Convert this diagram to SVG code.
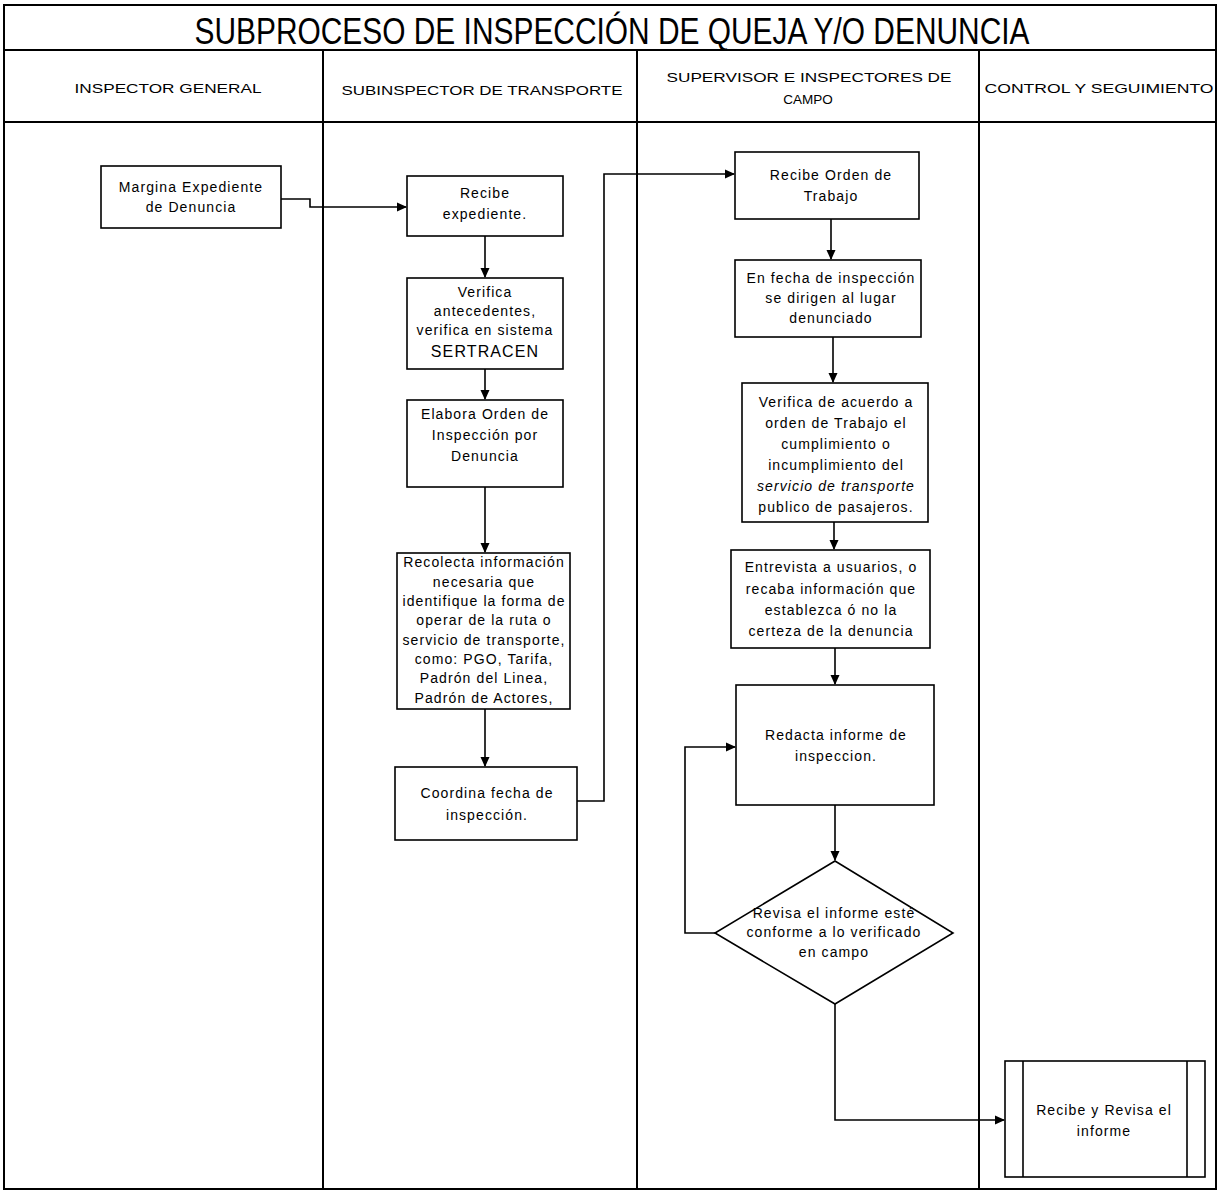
<svg xmlns="http://www.w3.org/2000/svg" width="1218" height="1192" viewBox="0 0 1218 1192">
<defs>
<marker id="ah" markerWidth="10" markerHeight="10" refX="9" refY="5" orient="auto" markerUnits="userSpaceOnUse">
<path d="M0,0.5 L10,5 L0,9.5 Z" fill="#000"/>
</marker>
<style>
.frame{fill:none;stroke:#000;stroke-width:2}
.box{fill:#fff;stroke:#000;stroke-width:1.6}
.con{fill:none;stroke:#000;stroke-width:1.6}
.t{font-family:"Liberation Sans",Arial,sans-serif;font-size:14px;letter-spacing:1.1px;fill:#000;text-anchor:middle}
.h{font-family:"Liberation Sans",Arial,sans-serif;font-size:13.5px;fill:#000;text-anchor:middle}
.title{font-family:"Liberation Sans",Arial,sans-serif;font-size:36px;fill:#000;text-anchor:middle}
</style>
</defs>
<rect width="1218" height="1192" fill="#fff"/>
<g id="frame">
<rect class="frame" x="4" y="5" width="1212" height="1184"/>
<line class="frame" x1="4" y1="50" x2="1216" y2="50"/>
<line class="frame" x1="4" y1="122" x2="1216" y2="122"/>
<line class="frame" x1="323" y1="50" x2="323" y2="1189"/>
<line class="frame" x1="637" y1="50" x2="637" y2="1189"/>
<line class="frame" x1="979" y1="50" x2="979" y2="1189"/>
<text class="title" x="612" y="44" textLength="835" lengthAdjust="spacingAndGlyphs">SUBPROCESO DE INSPECCIÓN DE QUEJA Y/O DENUNCIA</text>
<text class="h" x="168" y="93" textLength="187" lengthAdjust="spacingAndGlyphs">INSPECTOR GENERAL</text>
<text class="h" x="482" y="95" textLength="281" lengthAdjust="spacingAndGlyphs">SUBINSPECTOR DE TRANSPORTE</text>
<text class="h" x="809" y="82" textLength="285" lengthAdjust="spacingAndGlyphs">SUPERVISOR E INSPECTORES DE</text>
<text class="h" x="808" y="104">CAMPO</text>
<text class="h" x="1099" y="93" textLength="229" lengthAdjust="spacingAndGlyphs">CONTROL Y SEGUIMIENTO</text>
</g>
<g id="connectors">
<path class="con" d="M281,199 H310 V207 H406" marker-end="url(#ah)"/>
<path class="con" d="M485,236 V277" marker-end="url(#ah)"/>
<path class="con" d="M485,369 V399" marker-end="url(#ah)"/>
<path class="con" d="M485,487 V552" marker-end="url(#ah)"/>
<path class="con" d="M485,709 V766" marker-end="url(#ah)"/>
<path class="con" d="M577,801 H604 V174 H734" marker-end="url(#ah)"/>
<path class="con" d="M831,219 V259" marker-end="url(#ah)"/>
<path class="con" d="M833,337 V382" marker-end="url(#ah)"/>
<path class="con" d="M834,522 V549" marker-end="url(#ah)"/>
<path class="con" d="M835,648 V684" marker-end="url(#ah)"/>
<path class="con" d="M835,805 V860" marker-end="url(#ah)"/>
<path class="con" d="M715,933 H685 V747 H735" marker-end="url(#ah)"/>
<path class="con" d="M835,1004 V1120 H1004" marker-end="url(#ah)"/>
</g>
<g id="n1">
<rect class="box" x="101" y="166" width="180" height="62"/>
<text class="t" x="191" y="192">Margina Expediente</text>
<text class="t" x="191" y="212">de Denuncia</text>
</g>
<g id="n2">
<rect class="box" x="407" y="176" width="156" height="60"/>
<text class="t" x="485" y="198">Recibe</text>
<text class="t" x="485" y="219">expediente.</text>
</g>
<g id="n3">
<rect class="box" x="407" y="278" width="156" height="91"/>
<text class="t" x="485" y="297">Verifica</text>
<text class="t" x="485" y="316">antecedentes,</text>
<text class="t" x="485" y="335">verifica en sistema</text>
<text class="t" x="485" y="357" style="font-size:16px">SERTRACEN</text>
</g>
<g id="n4">
<rect class="box" x="407" y="400" width="156" height="87"/>
<text class="t" x="485" y="419">Elabora Orden de</text>
<text class="t" x="485" y="440">Inspección por</text>
<text class="t" x="485" y="461">Denuncia</text>
</g>
<g id="n5">
<rect class="box" x="397" y="553" width="173" height="156"/>
<text class="t" x="484" y="567">Recolecta información</text>
<text class="t" x="484" y="587">necesaria que</text>
<text class="t" x="484" y="606">identifique la forma de</text>
<text class="t" x="484" y="625">operar de la ruta o</text>
<text class="t" x="484" y="645">servicio de transporte,</text>
<text class="t" x="484" y="664">como: PGO, Tarifa,</text>
<text class="t" x="484" y="683">Padrón del Linea,</text>
<text class="t" x="484" y="703">Padrón de Actores,</text>
</g>
<g id="n6">
<rect class="box" x="395" y="767" width="182" height="73"/>
<text class="t" x="487" y="798">Coordina fecha de</text>
<text class="t" x="487" y="820">inspección.</text>
</g>
<g id="n7">
<rect class="box" x="735" y="152" width="184" height="67"/>
<text class="t" x="831" y="180">Recibe Orden de</text>
<text class="t" x="831" y="201">Trabajo</text>
</g>
<g id="n8">
<rect class="box" x="735" y="260" width="186" height="77"/>
<text class="t" x="831" y="283">En fecha de inspección</text>
<text class="t" x="831" y="303">se dirigen al lugar</text>
<text class="t" x="831" y="323">denunciado</text>
</g>
<g id="n9">
<rect class="box" x="742" y="383" width="186" height="139"/>
<text class="t" x="836" y="407">Verifica de acuerdo a</text>
<text class="t" x="836" y="428">orden de Trabajo el</text>
<text class="t" x="836" y="449">cumplimiento o</text>
<text class="t" x="836" y="470">incumplimiento del</text>
<text class="t" x="836" y="491" font-style="italic">servicio de transporte</text>
<text class="t" x="836" y="512">publico de pasajeros.</text>
</g>
<g id="n10">
<rect class="box" x="731" y="550" width="199" height="98"/>
<text class="t" x="831" y="572">Entrevista a usuarios, o</text>
<text class="t" x="831" y="594">recaba información que</text>
<text class="t" x="831" y="615">establezca ó no la</text>
<text class="t" x="831" y="636">certeza de la denuncia</text>
</g>
<g id="n11">
<rect class="box" x="736" y="685" width="198" height="120"/>
<text class="t" x="836" y="740">Redacta informe de</text>
<text class="t" x="836" y="761">inspeccion.</text>
</g>
<g id="n12">
<polygon class="box" points="835,861 953,933 835,1004 715,933"/>
<text class="t" x="834" y="918">Revisa el informe esté</text>
<text class="t" x="834" y="937">conforme a lo verificado</text>
<text class="t" x="834" y="957">en campo</text>
</g>
<g id="n13">
<rect class="box" x="1005" y="1061" width="200" height="116"/>
<line class="box" x1="1023" y1="1061" x2="1023" y2="1177"/>
<line class="box" x1="1187" y1="1061" x2="1187" y2="1177"/>
<text class="t" x="1104" y="1115">Recibe y Revisa el</text>
<text class="t" x="1104" y="1136">informe</text>
</g>
</svg>
